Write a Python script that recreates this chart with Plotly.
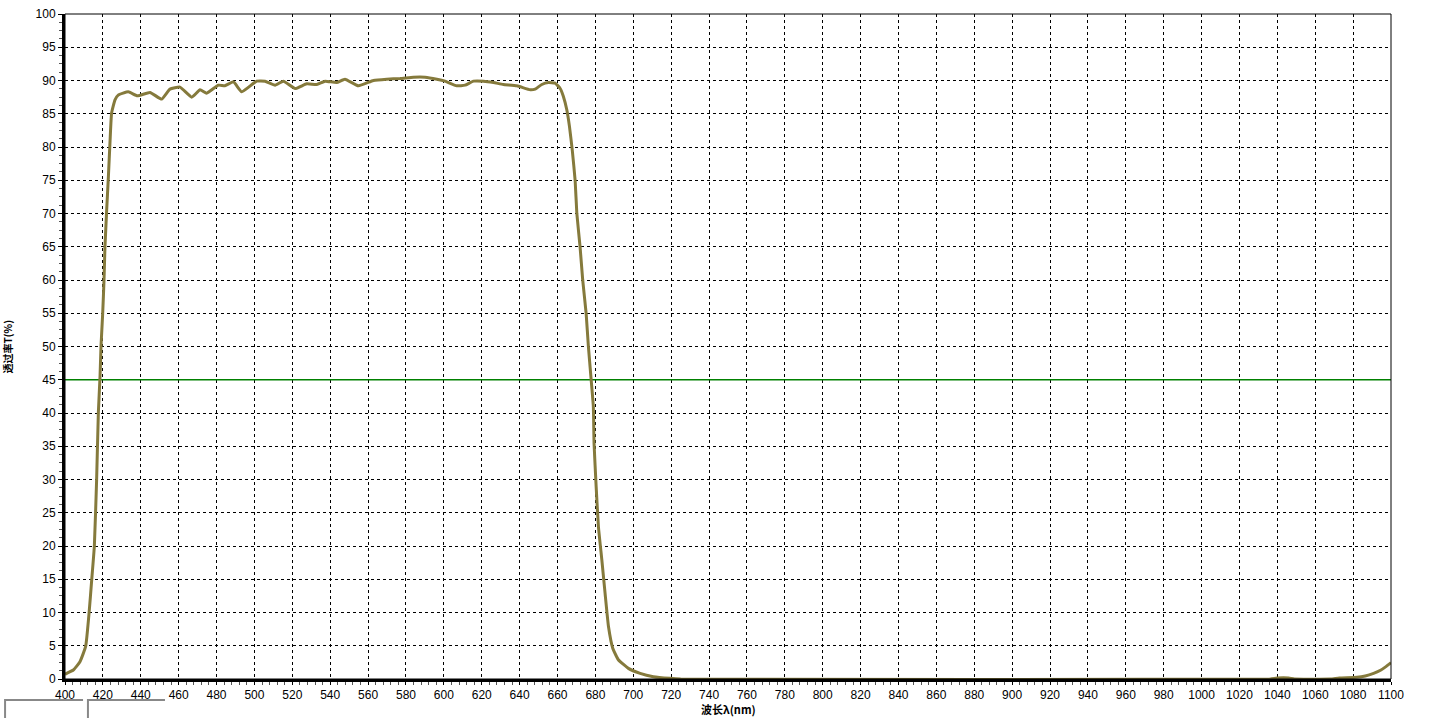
import plotly.graph_objects as go

# Wavelength (nm) and transmission (%)
wavelength = [400, 400.9, 404.4, 407.9, 410.9, 412.7, 414.1, 415.5, 416.7, 417.6, 418.5,
              419.0, 419.9, 420.6, 421.1, 422.0, 422.9, 423.8, 424.6, 426.4, 428.1,
              433.4, 438.2, 444.9, 451.0, 455.4, 460.7, 466.9, 471.3, 474.8, 481.0,
              484.4, 488.9, 493.3, 501.2, 505.6, 510.9, 515.3, 521.5, 527.6, 532.9,
              537.3, 543.4, 547.8, 554.9, 562.8, 569.8, 576.9, 583.9, 590.1, 596.3,
              600.6, 606.8, 611.2, 615.6, 620.9, 626.2, 631.4, 638.5, 645.6, 648.2,
              651.7, 655.2, 658.7, 661.4, 663.1, 664.9, 666.3, 667.8, 669.3, 670.2,
              671.9, 673.3, 675.1, 676.3, 677.7, 678.9, 679.3, 680.4, 681.6, 683.4,
              685.1, 686.9, 689.2, 692.1, 697.4, 703.6, 710.6, 719.4, 725, 1036,
              1040, 1046, 1049, 1068, 1072.7, 1082, 1086.4, 1090.8, 1094.7, 1097.5, 1100]
transmission = [0.7, 0.85, 1.35, 2.6, 4.9, 9.9, 14.9, 20, 30, 40, 45.5,
                50, 55, 60, 65, 70.5, 75.5, 81, 85.1, 87.1, 87.8,
                88.3, 87.7, 88.2, 87.2, 88.7, 89.0, 87.5, 88.6, 88.1, 89.3,
                89.2, 89.8, 88.3, 89.9, 89.9, 89.3, 89.9, 88.8, 89.5, 89.4,
                89.9, 89.7, 90.2, 89.2, 90.0, 90.2, 90.3, 90.5, 90.5, 90.2,
                89.9, 89.2, 89.3, 89.9, 89.9, 89.7, 89.4, 89.2, 88.6, 88.7,
                89.4, 89.7, 89.6, 88.8, 87.6, 85.6, 83.1, 79.5, 75, 70,
                65, 60, 55, 50, 45.2, 41, 35.4, 28.9, 22.9, 17.9,
                12.9, 7.9, 4.6, 2.9, 1.6, 0.85, 0.35, 0.1, 0.0, 0.0,
                0.15, 0.15, 0.0, 0.0, 0.15, 0.25, 0.45, 0.85, 1.35, 1.9, 2.45]

threshold = 45
x_ticks = list(range(400, 1101, 20))
y_ticks = list(range(0, 101, 5))
x_title = "<b>波长λ(nm)</b>"
y_title = "<b>透过率T(%)</b>"

fig = go.Figure()
fig.add_trace(go.Scatter(x=[400, 1100], y=[threshold, threshold], mode="lines",
                         line=dict(color="#008000", width=1.5), hoverinfo="skip"))
fig.add_trace(go.Scatter(x=wavelength, y=transmission, mode="lines",
                         line=dict(color="#857a3c", width=3, shape="spline", smoothing=0.4)))

tickfont = dict(family="Liberation Sans, Arial, sans-serif", size=12, color="black")
fig.update_xaxes(range=[400, 1100], tickvals=x_ticks, ticktext=[str(v) for v in x_ticks],
                 automargin=False,
                 showgrid=True, gridcolor="black", griddash="3px,3px", gridwidth=1,
                 showline=True, linecolor="black", linewidth=3, ticks="outside",
                 ticklen=3, tickcolor="black", tickfont=tickfont, zeroline=False,
                 minor=dict(dtick=4, ticks="outside", ticklen=3, tickcolor="#555", showgrid=False))
fig.update_yaxes(range=[0, 100], tickvals=y_ticks, ticktext=[str(v) for v in y_ticks],
                 automargin=False,
                 showgrid=True, gridcolor="black", griddash="3px,3px", gridwidth=1,
                 showline=True, linecolor="black", linewidth=3, ticks="outside",
                 ticklen=4, tickcolor="black", tickfont=tickfont, zeroline=False,
                 minor=dict(dtick=1.25, ticks="outside", ticklen=3, tickcolor="#555", showgrid=False))

shapes = [
    dict(type="rect", xref="paper", yref="paper", x0=0, y0=0, x1=1, y1=1,
         line=dict(color="black", width=1), layer="above"),
    dict(type="path", xref="paper", yref="paper",
         path="M -0.0452,-0.0586 L -0.0452,-0.0316 L 0.0136,-0.0316", line=dict(color="#888", width=2)),
    dict(type="path", xref="paper", yref="paper",
         path="M 0.0173,-0.0586 L 0.0173,-0.0316 L 0.0754,-0.0316", line=dict(color="#888", width=2)),
]
annotations = [
    dict(text=x_title, xref="paper", yref="paper", x=0.5, y=-0.0451,
         xanchor="center", yanchor="middle", showarrow=False,
         font=dict(family="Noto Sans CJK SC", size=11, color="black")),
    dict(text=y_title, xref="paper", yref="paper", x=-0.0430, y=0.5, textangle=-90,
         xanchor="center", yanchor="middle", showarrow=False,
         font=dict(family="Noto Sans CJK SC", size=10, color="black")),
]

fig.update_layout(width=1432, height=718, showlegend=False,
                  margin=dict(l=65, r=41, t=14, b=39),
                  plot_bgcolor="white", paper_bgcolor="white",
                  shapes=shapes, annotations=annotations)
fig.write_html("out.html", config={"displayModeBar": False},
               post_script="document.body.style.margin='0';")
